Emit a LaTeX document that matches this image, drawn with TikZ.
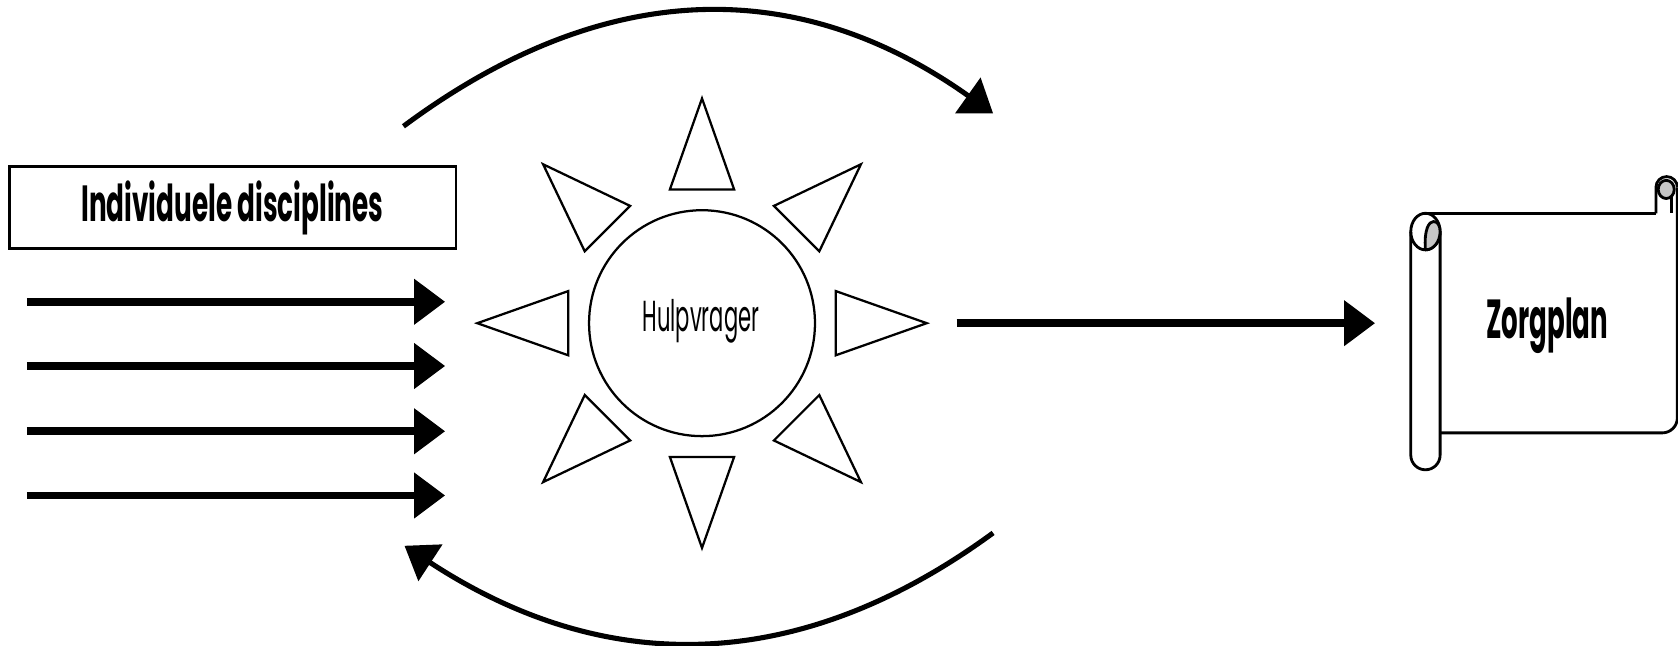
\documentclass[tikz,border=0pt]{standalone}
\usepackage{fontspec}
\setmainfont{Poppins}
\usepackage{graphicx}
\usetikzlibrary{arrows.meta,calc}
\tikzset{
  thinline/.style={line width=0.6pt},
  boxline/.style={line width=0.75pt},
  bigarrow/.style={line width=2.1pt, -{Triangle[length=0.29cm,width=0.41cm]}},
  arcarrow/.style={line width=1.35pt, -{Triangle[length=0.29cm,width=0.40cm]}},
  ray/.style={line width=0.6pt, line join=miter},
  rollfill/.style={fill=gray!45, line width=0.75pt},
}
\begin{document}
\begin{tikzpicture}[x=0.01cm,y=-0.01cm]
\useasboundingbox (0,0) rectangle (1568,603);
% box with title
\node[draw, boxline, minimum width=4.167cm, minimum height=0.762cm, inner sep=0pt] (disc) at (217.65,193.8) {};
\node[anchor=base, inner sep=0pt] (disctext) at (217.2,207.3) {\resizebox{2.82cm}{0.38cm}{\bfseries Individuele disciplines}};
% input arrows
\foreach \i/\y in {1/282,2/342,3/403,4/463}{
  \coordinate (s\i) at (25,\y);
  \coordinate (t\i) at (416,\y);
  \draw[bigarrow] (s\i) -- (t\i);
}
% sun
\node[draw, thinline, circle, minimum size=2.11cm, inner sep=0pt] (sun) at (656,302) {};
\node[anchor=base, inner sep=0pt] (hulp) at (655,310) {\resizebox{1.09cm}{0.30cm}{Hulpvrager}};
\foreach \a in {0,45,...,315}{
  \draw[ray] ($(sun.center)+(\a:125)+(\a+90:30)$) -- ($(sun.center)+(\a:210)$) -- ($(sun.center)+(\a:125)+(\a-90:30)$) -- cycle;
}
% feedback arcs
\coordinate (a1) at (377,118);
\coordinate (a2) at (928,106);
\draw[arcarrow] (a1) .. controls (564,-21) and (745,-24) .. (a2);
\coordinate (b1) at (928,498);
\coordinate (b2) at (378,510);
\draw[arcarrow] (b1) .. controls (745,632) and (564,632) .. (b2);
% main arrow
\coordinate (m1) at (894,302);
\coordinate (m2) at (1285,302);
\draw[bigarrow] (m1) -- (m2);
% scroll
\draw[boxline] (1332,199.3) -- (1547.4,199.3);
\draw[boxline, rounded corners=4pt] (1567.4,175) -- (1567.4,404.5) -- (1345.7,404.5);
\draw[boxline] (1318.3,216.4) -- (1318.3,425.3) arc[start angle=180, end angle=0, radius=13.7] -- (1345.7,216.4);
\draw[boxline] (1332,216.4) ellipse[x radius=13.7, y radius=17.1];
\filldraw[rollfill] (1332,233.5) .. controls (1330.5,214) and (1335.5,207) .. (1339.5,207) .. controls (1343.5,207) and (1345.7,211) .. (1345.7,216.4) arc[start angle=0, end angle=90, x radius=13.7, y radius=17.1] -- cycle;
\draw[boxline] (1547.4,199.3) -- (1547.4,175) arc[start angle=180, end angle=360, radius=10];
\filldraw[rollfill] (1557,177) ellipse[x radius=7.5, y radius=8.5];
\draw[boxline] (1562,183) -- (1562,199.3);
\node[anchor=base, inner sep=0pt] (zorg) at (1445.8,316.1) {\resizebox{1.136cm}{0.38cm}{\bfseries Zorgplan}};
\end{tikzpicture}
\end{document}
